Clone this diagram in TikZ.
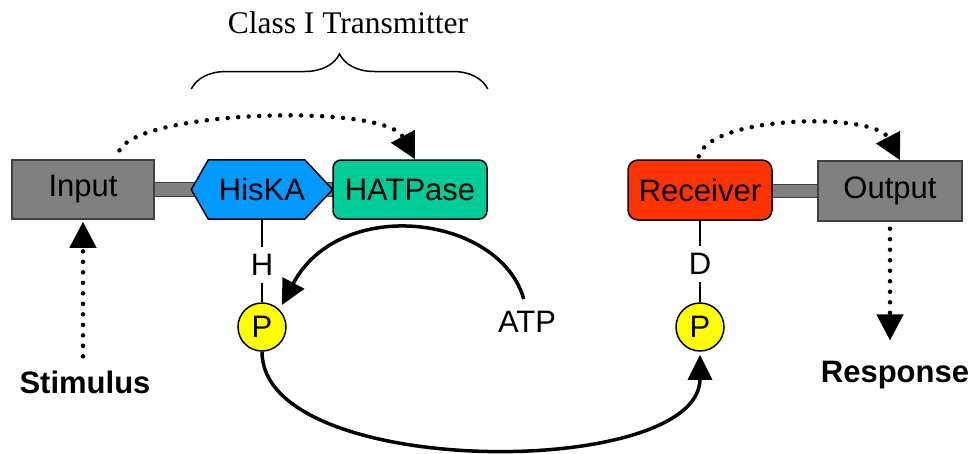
\documentclass[tikz,border=0pt]{standalone}
\usepackage{fontspec}
\setmainfont{Liberation Sans}
\newfontfamily\titlefont{Liberation Serif}
\usetikzlibrary{arrows.meta,decorations.pathreplacing,backgrounds}
\definecolor{domaingray}{HTML}{808080}
\definecolor{kinaseblue}{HTML}{0099FF}
\definecolor{atpasegreen}{HTML}{00CC99}
\definecolor{receiverred}{HTML}{FF3300}
\definecolor{phosyellow}{HTML}{FFFF00}
\begin{document}
\begin{tikzpicture}[x=1pt,y=-1pt]
\tikzstyle{every node}+=[inner sep=0pt, font=\fontsize{31}{37}\selectfont]
\tikzstyle{graybox}=[draw=black!75, fill=domaingray, line width=1.5, minimum width=142, minimum height=59]
\tikzstyle{roundbox}=[draw=black, line width=1.5, rounded corners=8, minimum height=59]
\tikzstyle{phospho}=[circle, draw=black, fill=phosyellow, line width=1.5, minimum size=48]
\tikzstyle{residue}=[inner sep=7]
\tikzstyle{linker}=[draw=black!75, fill=domaingray, line width=1]
\tikzstyle{link}=[black, line width=1.5]
\tikzstyle{dotflow}=[line width=4.5, dash pattern=on 0pt off 10.5pt, line cap=round, -{Triangle[length=26pt,width=26pt]}]
\tikzstyle{transfer}=[line width=3.5, -{Triangle[length=25pt,width=24pt]}]
\useasboundingbox (0,0) rectangle (978,453);
\node [graybox] (input) at (83,189.5) {Input};
\node [minimum width=141, minimum height=59] (hiska) at (262,189.5) {HisKA};
\node [roundbox, fill=atpasegreen, minimum width=154] (hatpase) at (410,189.5) {HATPase};
\node [roundbox, fill=receiverred, minimum width=144, minimum height=60, rounded corners=10] (receiver) at (700,190) {Receiver};
\node [graybox, minimum width=144, minimum height=60] (output) at (890,191) {Output};
\node [residue] (his) at (262,265) {H};
\node [residue] (asp) at (700,264) {D};
\node [phospho] (phis) at (262,327) {P};
\node [phospho] (pasp) at (700,327) {P};
\node (atp) at (527,321.5) {ATP};
\node [anchor=base, font=\fontsize{31}{37}\selectfont\bfseries] (stimulus) at (85,393) {Stimulus};
\node [anchor=base, font=\fontsize{31}{37}\selectfont\bfseries] (response) at (895,382) {Response};
\node [anchor=base, font=\titlefont\fontsize{31.5}{37}\selectfont] (transmitter) at (348,33) {Class I Transmitter};
\begin{scope}[on background layer]
\draw [linker] ([yshift=7pt]input.east) rectangle ([yshift=-7pt]hatpase.west);
\draw [linker] ([yshift=6pt]receiver.east) rectangle ([yshift=-6pt]output.west);
\draw [black, fill=kinaseblue, line width=1.5] (hiska.west) -- ([xshift=17pt]hiska.north west) -- ([xshift=-28pt]hiska.north east) -- (hiska.east) -- ([xshift=-28pt]hiska.south east) -- ([xshift=17pt]hiska.south west) -- cycle;
\end{scope}
\draw [decorate, decoration={brace, amplitude=35}, line width=1.5] (hiska.west |- 0,89) -- (hatpase.east |- 0,89);
\draw [link] (hiska.south) -- (his);
\draw [link] (his) -- (phis);
\draw [link] (receiver.south) -- (asp);
\draw [link] (asp) -- (pasp);
\draw [transfer, shorten <=12pt, shorten >=5pt] (atp.north) .. controls (500,215) and (340,195) .. (phis.north east);
\draw [transfer, shorten >=3pt] (phis.south) .. controls (262,480) and (700,480) .. (pasp.south);
\draw [dotflow, shorten <=10pt] ([xshift=32pt]input.north) .. controls (140,110) and (385,103) .. ([xshift=5pt]hatpase.north);
\draw [dotflow, shorten <=3pt] ([xshift=-2pt]receiver.north) .. controls (710,115) and (875,112) .. ([xshift=10pt]output.north);
\draw [dotflow, shorten <=14pt, shorten >=2pt] (input.south |- stimulus.north) -- (input.south);
\draw [dotflow, shorten <=7pt, shorten >=20pt] (output.south) -- (output.south |- response.north);
\end{tikzpicture}
\end{document}
